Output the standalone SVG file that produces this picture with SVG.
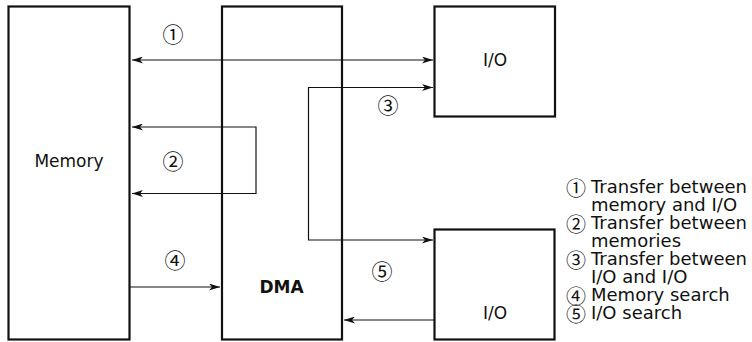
<svg xmlns="http://www.w3.org/2000/svg" width="752" height="342" viewBox="0 0 752 342">
<style>
.box{fill:#fff;stroke:#111;stroke-width:2.2}
.ln{fill:none;stroke:#111;stroke-width:1.2}
.lbl{font-family:"DejaVu Sans","Liberation Sans",sans-serif;font-size:17px;fill:#111}
.num{font-family:"Noto Sans CJK JP","DejaVu Sans",sans-serif;font-size:21px;fill:#111;text-anchor:middle;dominant-baseline:central}
.lnum{font-family:"Noto Sans CJK JP","DejaVu Sans",sans-serif;font-size:20px;fill:#111;text-anchor:middle;dominant-baseline:central}
.leg{font-family:"DejaVu Sans","Liberation Sans",sans-serif;font-size:18px;fill:#111}
</style>
<defs>
<marker id="ah" viewBox="0 0 11 7" refX="11" refY="3.5" markerWidth="11" markerHeight="7" markerUnits="userSpaceOnUse" orient="auto-start-reverse">
<path d="M0,0 L11,3.5 L0,7 L3,3.5 z" fill="#111"/>
</marker>
</defs>
<rect width="752" height="342" fill="#fff"/>
<g id="memory">
<rect class="box" x="8.5" y="6.5" width="121" height="333"/>
<text class="lbl" x="69" y="167" text-anchor="middle" font-size="18.5">Memory</text>
</g>
<g id="dma">
<rect class="box" x="222" y="6.5" width="120" height="333"/>
<text class="lbl" x="281.5" y="293" text-anchor="middle" font-weight="bold">DMA</text>
</g>
<g id="io1">
<rect class="box" x="434.5" y="6.5" width="120.5" height="110"/>
<text class="lbl" x="495" y="66" text-anchor="middle">I/O</text>
</g>
<g id="io2">
<rect class="box" x="434.5" y="229.5" width="120" height="110"/>
<text class="lbl" x="495" y="319" text-anchor="middle">I/O</text>
</g>
<g id="connectors">
<line class="ln" x1="132" y1="60" x2="433" y2="60" marker-start="url(#ah)" marker-end="url(#ah)"/>
<polyline class="ln" points="132,127 256,127 256,193.5 132,193.5" marker-start="url(#ah)" marker-end="url(#ah)"/>
<polyline class="ln" points="433,87.5 308.5,87.5 308.5,240 433,240" marker-start="url(#ah)" marker-end="url(#ah)"/>
<line class="ln" x1="130" y1="287" x2="220" y2="287" marker-end="url(#ah)"/>
<line class="ln" x1="434" y1="320" x2="344" y2="320" marker-end="url(#ah)"/>
<text class="num" x="173" y="33">①</text>
<text class="num" x="173" y="160">②</text>
<text class="num" x="388" y="104">③</text>
<text class="num" x="175" y="259">④</text>
<text class="num" x="382" y="270">⑤</text>
</g>
<g id="legend">
<text class="lnum" x="576" y="187">①</text>
<text class="leg" x="591" y="193">Transfer between</text>
<text class="leg" x="591" y="211">memory and I/O</text>
<text class="lnum" x="576" y="223">②</text>
<text class="leg" x="591" y="229">Transfer between</text>
<text class="leg" x="591" y="247">memories</text>
<text class="lnum" x="576" y="259">③</text>
<text class="leg" x="591" y="265">Transfer between</text>
<text class="leg" x="591" y="283">I/O and I/O</text>
<text class="lnum" x="576" y="295">④</text>
<text class="leg" x="591" y="301">Memory search</text>
<text class="lnum" x="576" y="313">⑤</text>
<text class="leg" x="591" y="319">I/O search</text>
</g>
</svg>
